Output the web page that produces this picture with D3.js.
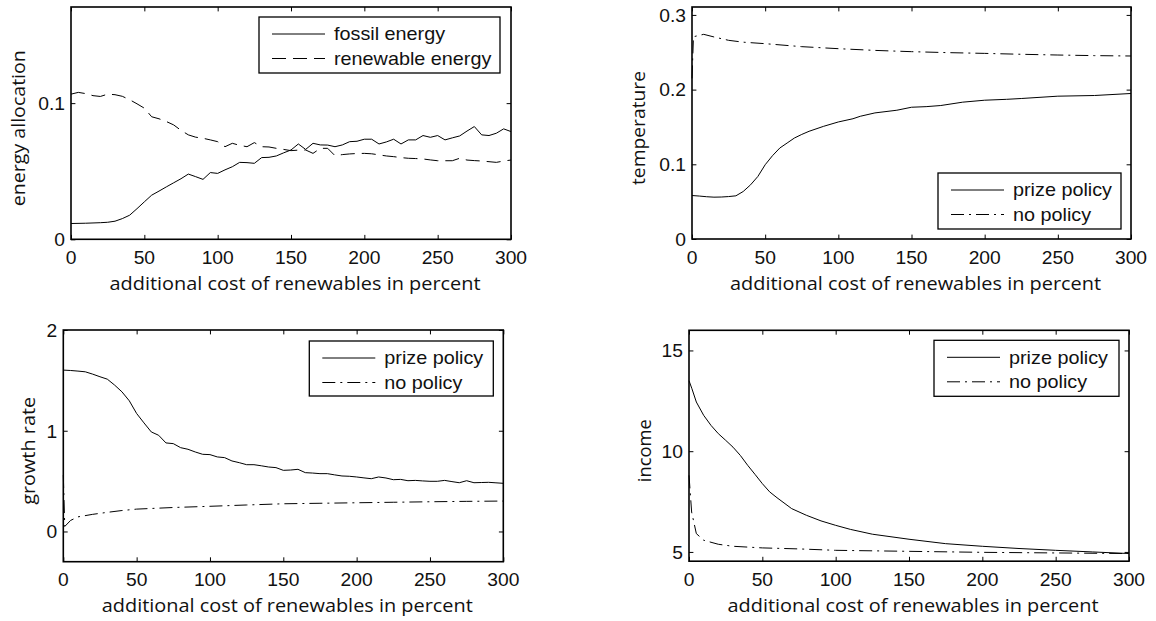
<!DOCTYPE html>
<html>
<head>
<meta charset="utf-8">
<script src="https://cdn.jsdelivr.net/npm/d3@7"></script>
<style>
  html, body { margin: 0; padding: 0; background: #fff; }
  svg { display: block; }
</style>
</head>
<body>
<svg id="chart" width="1156" height="621"></svg>
<script>
// ---------------- data ----------------
const xTicks = [0, 50, 100, 150, 200, 250, 300];
const xLabel = "additional cost of renewables in percent";

// panel 1: energy allocation
const p1YTicks = [0, 0.1];
const p1YLabels = ["0", "0.1"];
const p1Legend = ["fossil energy", "renewable energy"];
const fossilEnergy = [
  [0,0.0116],[10,0.0118],[20,0.0122],[25,0.0125],[30,0.0133],[35,0.0152],[40,0.0177],[45,0.0225],[50,0.0275],
  [55,0.0324],[60,0.0354],[65,0.0385],[70,0.0415],[75,0.0445],[80,0.0479],[85,0.046],[90,0.044],[95,0.049],
  [100,0.0484],[105,0.051],[110,0.0533],[115,0.0565],[120,0.0563],[125,0.0558],[130,0.060],[135,0.0602],
  [140,0.0612],[145,0.0635],[150,0.0656],[155,0.070],[160,0.066],[165,0.0705],[170,0.0693],[175,0.0692],
  [180,0.068],[185,0.0693],[190,0.0717],[195,0.072],[200,0.0735],[205,0.0735],[210,0.070],[215,0.0715],
  [220,0.0735],[225,0.070],[230,0.073],[235,0.073],[240,0.0762],[245,0.0749],[250,0.0762],[255,0.073],
  [260,0.0745],[265,0.0759],[270,0.0795],[275,0.0828],[280,0.0767],[285,0.0762],[290,0.0779],[295,0.0811],[300,0.0791]
];
const renewableEnergy = [
  [0,0.1066],[5,0.1079],[10,0.1070],[15,0.1055],[20,0.1049],[25,0.1066],[30,0.1062],[35,0.1050],[40,0.1025],
  [45,0.0995],[50,0.0963],[55,0.0900],[60,0.0885],[65,0.0865],[70,0.0840],[75,0.0800],[80,0.0767],[85,0.0750],
  [90,0.0742],[95,0.0730],[100,0.0717],[105,0.0680],[110,0.0705],[115,0.0690],[120,0.0680],[125,0.0710],
  [130,0.0680],[135,0.0678],[140,0.0668],[145,0.0660],[150,0.0651],[155,0.0655],[160,0.0656],[165,0.0631],
  [170,0.0668],[175,0.0668],[180,0.0614],[185,0.0622],[190,0.0627],[195,0.0630],[200,0.0631],[205,0.0628],
  [210,0.0620],[215,0.0612],[220,0.0607],[225,0.0600],[230,0.0595],[235,0.0593],[240,0.0590],[245,0.0583],
  [250,0.0577],[255,0.0577],[260,0.0577],[265,0.0595],[270,0.0582],[275,0.0578],[280,0.0575],[285,0.0570],
  [290,0.0565],[295,0.0575],[300,0.0582]
];

// panel 2: temperature
const p2YTicks = [0, 0.1, 0.2, 0.3];
const p2YLabels = ["0", "0.1", "0.2", "0.3"];
const policyLegend = ["prize policy", "no policy"];
const tempPrize = [
  [0,0.0582],[5,0.0575],[10,0.0566],[15,0.0560],[20,0.0562],[25,0.0568],[30,0.0578],[35,0.0636],[40,0.0725],
  [45,0.0837],[50,0.0994],[55,0.1115],[60,0.1218],[65,0.1285],[70,0.1352],[75,0.1400],[80,0.1442],[90,0.1509],
  [100,0.1567],[110,0.1610],[115,0.1643],[125,0.1688],[140,0.1724],[150,0.1764],[160,0.1772],[170,0.1787],
  [185,0.1832],[200,0.1858],[215,0.1870],[225,0.1881],[250,0.1912],[275,0.1921],[300,0.1948]
];
const tempNone = [
  [0,0.215],[1,0.2708],[8,0.274],[15,0.2705],[25,0.2660],[35,0.2635],[50,0.2615],[75,0.2575],[100,0.2548],
  [125,0.2525],[150,0.2508],[175,0.2495],[200,0.2485],[225,0.2473],[250,0.2463],[275,0.2455],[300,0.2450]
];

// panel 3: growth rate
const p3YTicks = [0, 1, 2];
const p3YLabels = ["0", "1", "2"];
const growthPrize = [
  [0,1.602],[5,1.598],[10,1.592],[15,1.585],[20,1.562],[25,1.536],[30,1.512],[35,1.453],[40,1.386],[45,1.297],
  [50,1.171],[55,1.078],[60,0.988],[65,0.955],[70,0.879],[75,0.872],[80,0.832],[85,0.816],[90,0.789],[95,0.766],
  [100,0.763],[105,0.740],[110,0.733],[115,0.700],[120,0.683],[125,0.663],[130,0.663],[135,0.652],[140,0.640],
  [145,0.634],[150,0.607],[155,0.610],[160,0.617],[165,0.584],[170,0.580],[175,0.574],[180,0.574],[185,0.562],
  [190,0.551],[195,0.548],[200,0.541],[205,0.532],[210,0.524],[215,0.541],[220,0.531],[225,0.514],[230,0.517],
  [235,0.504],[240,0.507],[245,0.502],[250,0.498],[255,0.498],[260,0.507],[265,0.495],[270,0.484],[275,0.504],
  [280,0.484],[285,0.486],[290,0.488],[295,0.483],[300,0.478]
];
const growthNone = [
  [0,0.56],[1,0.05],[5,0.11],[10,0.145],[20,0.170],[30,0.190],[40,0.208],[50,0.222],[75,0.238],[100,0.250],
  [125,0.263],[150,0.275],[175,0.280],[200,0.285],[225,0.290],[250,0.295],[275,0.299],[300,0.302]
];

// panel 4: income
const p4YTicks = [5, 10, 15];
const p4YLabels = ["5", "10", "15"];
const incomePrize = [
  [0,13.5],[2,13.1],[5,12.44],[10,11.78],[15,11.28],[20,10.87],[25,10.54],[30,10.2],[35,9.79],[40,9.3],
  [45,8.85],[50,8.39],[55,7.98],[60,7.69],[70,7.15],[80,6.82],[90,6.54],[100,6.32],[110,6.12],[125,5.88],
  [150,5.63],[175,5.41],[200,5.28],[225,5.17],[250,5.08],[275,5.0],[300,4.92]
];
const incomeNone = [
  [0,8.8],[1.8,6.98],[5,5.91],[10,5.58],[20,5.38],[30,5.28],[50,5.2],[75,5.15],[100,5.08],[150,5.03],
  [200,4.98],[250,4.95],[300,4.92]
];

// ---------------- drawing ----------------
const svg = d3.select("#chart");
const SX = 1.1;            // horizontal stretch of the original raster text
const TICK_FONT = "'Liberation Sans', Arial, sans-serif";
const LABEL_FONT = "'Open Sans', 'DejaVu Sans', sans-serif";
const DASH = "14,7";
const DASHDOT = "13,5,2,5";

function text(g, x, y, str, o) {
  const t = g.append("text")
    .attr("transform", `translate(${x},${y})` + (o.rotate ? " rotate(-90)" : "") + ` scale(${o.sx || SX},1)`)
    .attr("text-anchor", o.anchor || "start")
    .attr("font-family", o.font || TICK_FONT)
    .attr("font-size", o.size || 17.5)
    .attr("font-weight", o.weight || 400)
    .attr("fill", "#111")
    .text(str);
  if (o.len) t.attr("textLength", o.len).attr("lengthAdjust", "spacingAndGlyphs").attr("transform", `translate(${x},${y})` + (o.rotate ? " rotate(-90)" : ""));
  return t;
}

function panel(cfg) {
  const { left, right, top, bottom } = cfg.box;
  const x = d3.scaleLinear().domain([0, 300]).range([left, right]);
  const y = d3.scaleLinear().domain(cfg.yDomain).range([bottom, top]);
  const g = svg.append("g");

  const line = d3.line().x(d => x(d[0])).y(d => y(d[1]));
  cfg.series.forEach(s => {
    g.append("path").datum(s.data).attr("d", line)
      .attr("fill", "none").attr("stroke", "#000").attr("stroke-width", 1)
      .attr("stroke-dasharray", s.dash || null);
  });

  // axes with inward ticks on all sides (MATLAB box style)
  const tl = 4.4;
  const xb = d3.axisBottom(x).tickValues(xTicks).tickSize(-tl).tickFormat("");
  const xt = d3.axisTop(x).tickValues(xTicks).tickSize(-tl).tickFormat("");
  const yl = d3.axisLeft(y).tickValues(cfg.yTicks).tickSize(-tl).tickFormat("");
  const yr = d3.axisRight(y).tickValues(cfg.yTicks).tickSize(-tl).tickFormat("");
  [[xb, `translate(0,${bottom})`], [xt, `translate(0,${top})`], [yl, `translate(${left},0)`], [yr, `translate(${right},0)`]]
    .forEach(([ax, tr]) => {
      const a = g.append("g").attr("transform", tr).call(ax);
      a.select(".domain").remove();
      a.selectAll(".tick line").attr("stroke", "#000").attr("stroke-width", 1);
    });
  g.append("rect").attr("x", left).attr("y", top).attr("width", right - left).attr("height", bottom - top)
    .attr("fill", "none").attr("stroke", "#000").attr("stroke-width", 1.6);

  // tick labels
  xTicks.forEach(v => text(g, x(v), bottom + 24.5, String(v), { anchor: "middle" }));
  cfg.yTicks.forEach((v, i) => text(g, left - 6, y(v) + 6.8, cfg.yLabels[i], { anchor: "end" }));

  // axis labels
  text(g, (left + right) / 2 + 4, bottom + 50.5, xLabel, { anchor: "middle", font: LABEL_FONT, size: 17.5, len: 371 });
  text(g, left - cfg.yLabelOff, (top + bottom) / 2 + 5, cfg.yLabel, { anchor: "middle", font: LABEL_FONT, size: 17.5, rotate: true, len: cfg.yLabelLen });

  // legend
  const L = cfg.legend;
  const lx = right - L.inset - L.w;
  const ly = L.anchor === "top" ? top + L.insetY : bottom - L.insetY - L.h;
  g.append("rect").attr("x", lx).attr("y", ly).attr("width", L.w).attr("height", L.h)
    .attr("fill", "#fff").attr("stroke", "#000").attr("stroke-width", 1.3);
  cfg.series.forEach((s, i) => {
    const cy = ly + 17 + i * 24.5;
    g.append("line").attr("x1", lx + 13).attr("x2", lx + 66).attr("y1", cy).attr("y2", cy)
      .attr("stroke", "#000").attr("stroke-width", 1).attr("stroke-dasharray", s.dash || null);
    text(g, lx + 75, cy + 6.3, s.name, { size: 18 });
  });
}

panel({
  box: { left: 71, right: 511, top: 7, bottom: 239.3 },
  yDomain: [0, 0.1706], yTicks: p1YTicks, yLabels: p1YLabels,
  yLabel: "energy allocation", yLabelOff: 46, yLabelLen: 156,
  series: [
    { name: p1Legend[0], data: fossilEnergy },
    { name: p1Legend[1], data: renewableEnergy, dash: DASH }
  ],
  legend: { w: 241, h: 56, inset: 11, insetY: 10, anchor: "top" }
});

panel({
  box: { left: 692, right: 1131, top: 7, bottom: 239 },
  yDomain: [0, 0.3106], yTicks: p2YTicks, yLabels: p2YLabels,
  yLabel: "temperature", yLabelOff: 47, yLabelLen: 114,
  series: [
    { name: policyLegend[0], data: tempPrize },
    { name: policyLegend[1], data: tempNone, dash: DASHDOT }
  ],
  legend: { w: 183, h: 56, inset: 10, insetY: 10, anchor: "bottom" }
});

panel({
  box: { left: 63.3, right: 503.3, top: 330, bottom: 561.7 },
  yDomain: [-0.3, 2], yTicks: p3YTicks, yLabels: p3YLabels,
  yLabel: "growth rate", yLabelOff: 28, yLabelLen: 108,
  series: [
    { name: policyLegend[0], data: growthPrize },
    { name: policyLegend[1], data: growthNone, dash: DASHDOT }
  ],
  legend: { w: 184, h: 55, inset: 10, insetY: 11, anchor: "top" }
});

panel({
  box: { left: 689, right: 1129, top: 330.3, bottom: 561.2 },
  yDomain: [4.54, 16], yTicks: p4YTicks, yLabels: p4YLabels,
  yLabel: "income", yLabelOff: 38, yLabelLen: 63,
  series: [
    { name: policyLegend[0], data: incomePrize },
    { name: policyLegend[1], data: incomeNone, dash: DASHDOT }
  ],
  legend: { w: 185, h: 56, inset: 10, insetY: 10, anchor: "top" }
});
</script>
</body>
</html>
